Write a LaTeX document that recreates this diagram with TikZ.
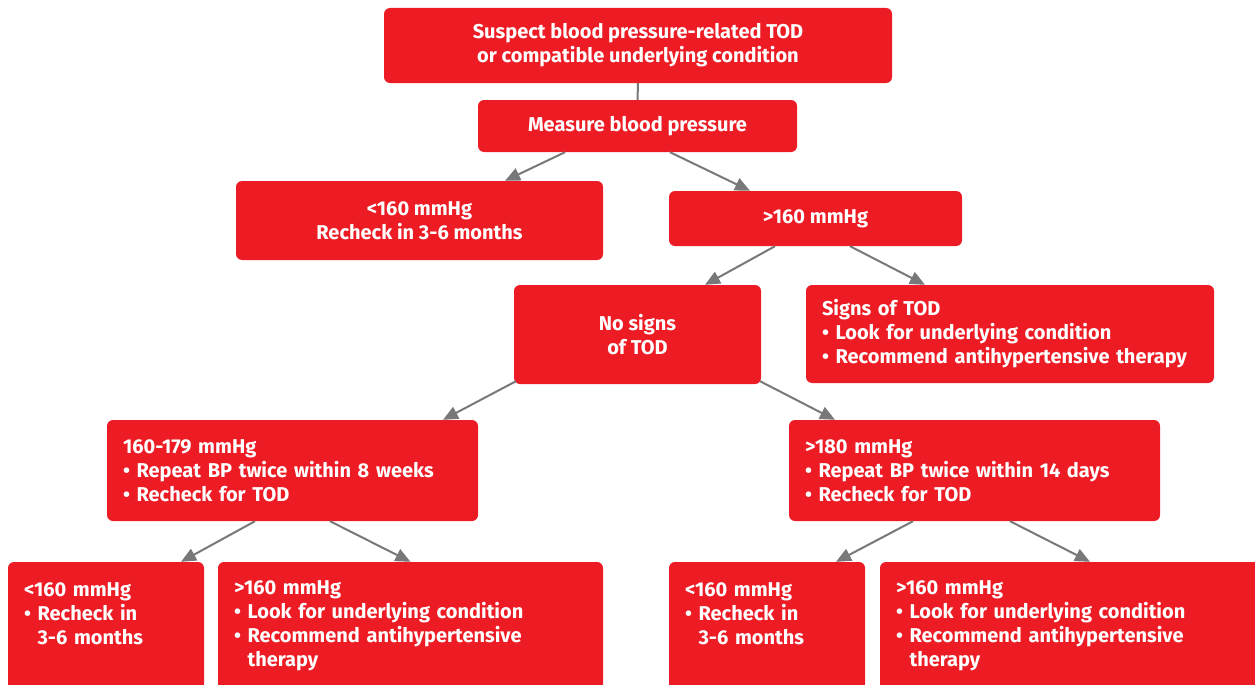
\documentclass[tikz,border=0pt]{standalone}
\usepackage{fontspec}
\setmainfont{Fira Sans}
\usepackage{tikz}
\usetikzlibrary{arrows.meta,positioning}
\definecolor{stepred}{HTML}{ED1C24}
\definecolor{linkgray}{HTML}{787878}
\tikzset{
  box/.style={fill=stepred, rounded corners=6pt, inner sep=0pt,
    font=\bfseries\fontsize{20}{24}\selectfont, text=white, align=center},
  lbox/.style={box, align=left, inner xsep=16pt},
  link/.style={-{Triangle[length=15pt,width=13pt]}, line width=2pt, color=linkgray},
  plain/.style={line width=2pt, color=linkgray},
}
\newcommand{\bul}{\textbullet\ }
\newcommand{\hang}{\phantom{\textbullet\ }}

\begin{document}
\begin{tikzpicture}[x=1pt,y=-1pt]
  \useasboundingbox (0,0) rectangle (1255,685);
  % top of the tree
  \node[box, minimum width=508, minimum height=75] (susp) at (638,45.5)
    {Suspect blood pressure-related TOD\\or compatible underlying condition};
  \node[box, minimum width=319, minimum height=52] (meas) at (637.5,126)
    {Measure blood pressure};
  \node[box, minimum width=367, minimum height=79] (lo) at (419.5,220.5)
    {<160 mmHg\\Recheck in 3-6 months};
  \node[box, minimum width=293, minimum height=55] (hi) at (815.5,218.5)
    {>160 mmHg};
  % second split
  \node[box, minimum width=247, minimum height=99] (nosig) at (637.5,334.5)
    {No signs\\of TOD};
  \node[lbox, text width=376, minimum height=98] (sig) at (1010,334)
    {Signs of TOD\\\bul Look for underlying condition\\\bul Recommend antihypertensive therapy};
  \node[lbox, text width=339, minimum height=101] (mid) at (292.5,470.5)
    {160-179 mmHg\\\bul Repeat BP twice within 8 weeks\\\bul Recheck for TOD};
  \node[lbox, text width=339, minimum height=101] (sev) at (974.5,470.5)
    {>180 mmHg\\\bul Repeat BP twice within 14 days\\\bul Recheck for TOD};
  % leaves, cut by the page edge
  \node[lbox, text width=164, minimum height=128] (lfa) at (106,626)
    {<160 mmHg\\\bul Recheck in\\\hang 3-6 months\\~};
  \node[lbox, text width=353, minimum height=128] (lfb) at (410.5,626)
    {>160 mmHg\\\bul Look for underlying condition\\\bul Recommend antihypertensive\\\hang therapy};
  \node[lbox, text width=164, minimum height=128] (lfc) at (767,626)
    {<160 mmHg\\\bul Recheck in\\\hang 3-6 months\\~};
  \node[lbox, text width=348, minimum height=128] (lfd) at (1070,626)
    {>160 mmHg\\\bul Look for underlying condition\\\bul Recommend antihypertensive\\\hang therapy};

  \draw[plain] (susp.south) -- (meas.north);
  \draw[link] ([xshift=-72.5]meas.south) -- ([xshift=85.5]lo.north);
  \draw[link] ([xshift=32.5]meas.south) -- ([xshift=-65.5]hi.north);
  \draw[link] ([xshift=-40.5]hi.south) -- ([xshift=67.5]nosig.north);
  \draw[link] ([xshift=34.5]hi.south) -- ([xshift=-85]sig.north);
  \draw[link] ([xshift=-121.5,yshift=3]nosig.south) -- ([xshift=150.5]mid.north);
  \draw[link] ([xshift=122.5,yshift=3]nosig.south) -- ([xshift=-139.5]sev.north);
  \draw[link] ([xshift=-37.5]mid.south) -- ([xshift=75]lfa.north);
  \draw[link] ([xshift=37.5]mid.south) -- ([xshift=0]lfb.north);
  \draw[link] ([xshift=-61.5]sev.south) -- ([xshift=69]lfc.north);
  \draw[link] ([xshift=35.5]sev.south) -- ([xshift=20]lfd.north);
\end{tikzpicture}
\end{document}
